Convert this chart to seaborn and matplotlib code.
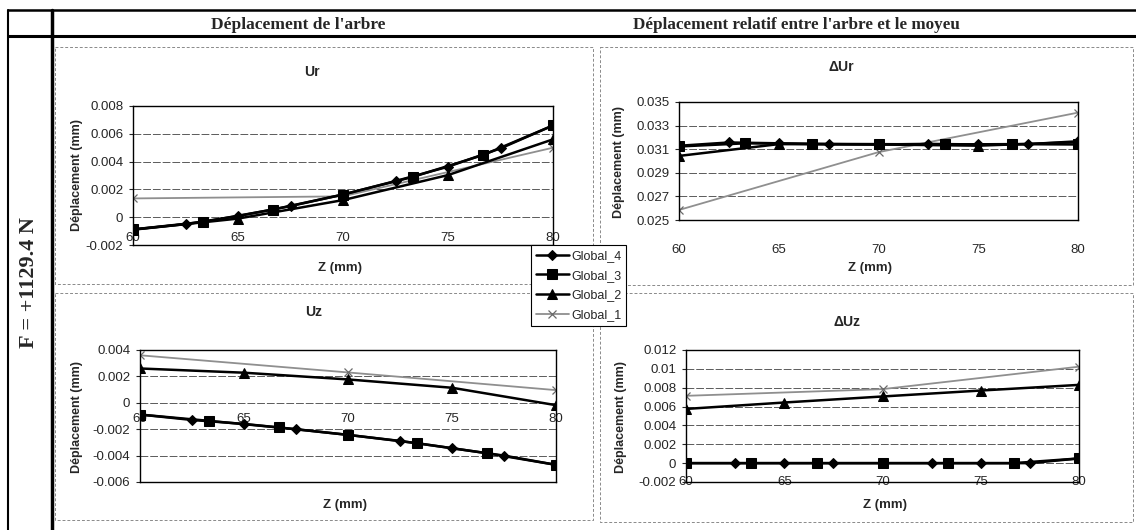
import matplotlib
matplotlib.use("Agg")
import matplotlib.pyplot as plt
from matplotlib.lines import Line2D
import seaborn as sns

# ---------------- data ----------------
Z4 = [60, 62.5, 65, 67.5, 70, 72.5, 75, 77.5, 80]
Z3 = [60, 63.33, 66.67, 70, 73.33, 76.67, 80]
Z2 = [60, 65, 70, 75, 80]
Z1 = [60, 70, 80]

series_names = ["Global_4", "Global_3", "Global_2", "Global_1"]

ur_g4 = [-0.00088, -0.0005, 0.00008, 0.0008, 0.00163, 0.0026, 0.00363, 0.00495, 0.0066]
ur_g3 = [-0.00088, -0.00034, 0.00055, 0.00163, 0.0029, 0.00447, 0.0066]
ur_g2 = [-0.0009, -0.0001, 0.00123, 0.00303, 0.0056]
ur_g1 = [0.00135, 0.0015, 0.005]

dur_g4 = [0.03129, 0.03157, 0.0315, 0.03143, 0.0314, 0.03145, 0.0314, 0.03143, 0.03167]
dur_g3 = [0.03123, 0.0315, 0.03145, 0.03143, 0.0314, 0.03143, 0.0314]
dur_g2 = [0.03043, 0.03143, 0.0314, 0.0313, 0.0316]
dur_g1 = [0.02585, 0.03075, 0.0341]

uz_g4 = [-0.00089, -0.0013, -0.0016, -0.002, -0.00243, -0.00289, -0.00344, -0.004, -0.0047]
uz_g3 = [-0.00089, -0.00137, -0.00187, -0.00243, -0.00306, -0.00382, -0.0047]
uz_g2 = [0.0026, 0.00228, 0.00177, 0.00114, -0.00018]
uz_g1 = [0.0036, 0.0023, 0.00096]

duz_g4 = [0, 0, 0, 0, 0, 0, 0, 0, 0.0005]
duz_g3 = [0, 0, 0, 0, 0, 0, 0.0005]
duz_g2 = [0.00575, 0.00643, 0.00707, 0.0077, 0.0083]
duz_g1 = [0.00714, 0.00785, 0.01023]

x_ticks = [60, 65, 70, 75, 80]
ur_yticks = [-0.002, 0, 0.002, 0.004, 0.006, 0.008]
dur_yticks = [0.025, 0.027, 0.029, 0.031, 0.033, 0.035]
uz_yticks = [-0.006, -0.004, -0.002, 0, 0.002, 0.004]
duz_yticks = [-0.002, 0, 0.002, 0.004, 0.006, 0.008, 0.01, 0.012]

col_headers = ["Déplacement de l'arbre", "Déplacement relatif entre l'arbre et le moyeu"]
row_header = "F = +1129.4 N"
titles = ["Ur", "ΔUr", "Uz", "ΔUz"]
ylabel = "Déplacement (mm)"
xlabel = "Z (mm)"

# ---------------- style ----------------
sns.set_style("white")
plt.rcParams["font.family"] = ["Liberation Sans", "DejaVu Sans"]
SERIF = ["Liberation Serif", "DejaVu Serif"]

W, H = 1136, 530
fig = plt.figure(figsize=(W / 100, H / 100), dpi=100)
fig.patch.set_facecolor("white")


def rect(l, t, r, b):
    return [l / W, 1 - b / H, (r - l) / W, (b - t) / H]


def ftext(x, y, s, **kw):
    fig.text(x / W, 1 - y / H, s, ha="center", va="center", **kw)


def fline(xs, ys, **kw):
    fig.add_artist(Line2D([x / W for x in xs], [1 - y / H for y in ys], **kw))


styles = [
    dict(marker="D", markersize=5.5, color="black", linewidth=1.8, mec="black", mfc="black"),
    dict(marker="s", markersize=7, color="black", linewidth=1.8, mec="black", mfc="black"),
    dict(marker="^", markersize=7, color="black", linewidth=1.8, mec="black", mfc="black"),
    dict(marker="x", markersize=6, color="#8f8f8f", linewidth=1.3, mec="#6a6a6a", mew=0.9),
]

panels = [
    dict(rect=rect(133, 106, 553, 245), ys=[ur_g4, ur_g3, ur_g2, ur_g1], yticks=ur_yticks, pad=-9.7),
    dict(rect=rect(679, 102, 1078, 220), ys=[dur_g4, dur_g3, dur_g2, dur_g1], yticks=dur_yticks, pad=17),
    dict(rect=rect(140, 350, 556, 482), ys=[uz_g4, uz_g3, uz_g2, uz_g1], yticks=uz_yticks, pad=-50),
    dict(rect=rect(686, 350, 1079, 482), ys=[duz_g4, duz_g3, duz_g2, duz_g1], yticks=duz_yticks, pad=-4),
]
zs = [Z4, Z3, Z2, Z1]

handles = None
for i, p in enumerate(panels):
    ax = fig.add_axes(p["rect"])
    for k, (z, y, st) in enumerate(zip(zs, p["ys"], styles)):
        sns.lineplot(x=z, y=y, ax=ax, label=series_names[k], zorder=5 - k, **st)
    if i == 0:
        handles, labels = ax.get_legend_handles_labels()
    ax.get_legend().remove()
    ax.set_xlim(60, 80)
    ax.set_ylim(p["yticks"][0], p["yticks"][-1])
    ax.set_xticks(x_ticks)
    ax.set_xticklabels([str(v) for v in x_ticks])
    ax.set_yticks(p["yticks"])
    ax.set_yticklabels([f"{round(v, 6):g}" for v in p["yticks"]])
    ax.tick_params(axis="x", length=0, pad=p["pad"], labelsize=9.5)
    ax.tick_params(axis="y", length=3, width=0.8, direction="out", pad=4, labelsize=9.5, left=True)
    for v in p["yticks"][1:-1]:
        ax.axhline(v, color="#5a5a5a", lw=0.7, ls=(0, (8, 2)), zorder=0)
    for s in ax.spines.values():
        s.set_visible(True)
        s.set_color("black")
        s.set_linewidth(1.0)
    ax.set_xlabel("")
    ax.set_ylabel("")
    ax.set_facecolor("white")

# ---------------- chart texts ----------------
ftext(312, 72, titles[0], fontsize=10, fontweight="bold")
ftext(841, 67, titles[1], fontsize=10, fontweight="bold")
ftext(314, 312, titles[2], fontsize=10, fontweight="bold")
ftext(847, 322, titles[3], fontsize=10, fontweight="bold")

ftext(77, 175, ylabel, fontsize=9, fontweight="bold", rotation=90)
ftext(619, 162, ylabel, fontsize=9, fontweight="bold", rotation=90)
ftext(77, 417, ylabel, fontsize=9, fontweight="bold", rotation=90)
ftext(621, 417, ylabel, fontsize=9, fontweight="bold", rotation=90)

ftext(340, 268, xlabel, fontsize=9.5, fontweight="bold")
ftext(870, 268, xlabel, fontsize=9.5, fontweight="bold")
ftext(345, 505, xlabel, fontsize=9.5, fontweight="bold")
ftext(885, 505, xlabel, fontsize=9.5, fontweight="bold")

# ---------------- table texts and lines ----------------
ftext(298, 25, col_headers[0], fontsize=12.5, fontweight="bold", family=SERIF)
ftext(796, 25, col_headers[1], fontsize=12.3, fontweight="bold", family=SERIF)
ftext(29, 283, row_header, fontsize=16, fontweight="bold", family=SERIF, rotation=90)

fline([8, 1136], [10, 10], color="black", lw=1.8)
fline([8, 1136], [36, 36], color="black", lw=2.2)
fline([8, 8], [10, 530], color="black", lw=1.5)
fline([52, 52], [10, 530], color="black", lw=2.5)

dash = dict(color="#8a8a8a", lw=0.7, ls=(0, (3, 2)))
for (l, t, r, b) in [(55, 47, 593, 284), (55, 293, 593, 520), (600, 47, 1133, 285), (600, 293, 1133, 522)]:
    fline([l, r, r, l, l], [t, t, b, b, t], **dash)

# ---------------- legend ----------------
leg = fig.legend(handles, labels, loc="upper left", bbox_to_anchor=(531 / W, 1 - 245 / H),
                 frameon=True, fancybox=False, edgecolor="black", framealpha=1,
                 fontsize=9, handlelength=2.6, handletextpad=0.2, labelspacing=0.62,
                 borderpad=0.4, borderaxespad=0)
leg.get_frame().set_linewidth(0.8)
leg.set_zorder(20)

fig.savefig("out.png", dpi=100, facecolor="white")
